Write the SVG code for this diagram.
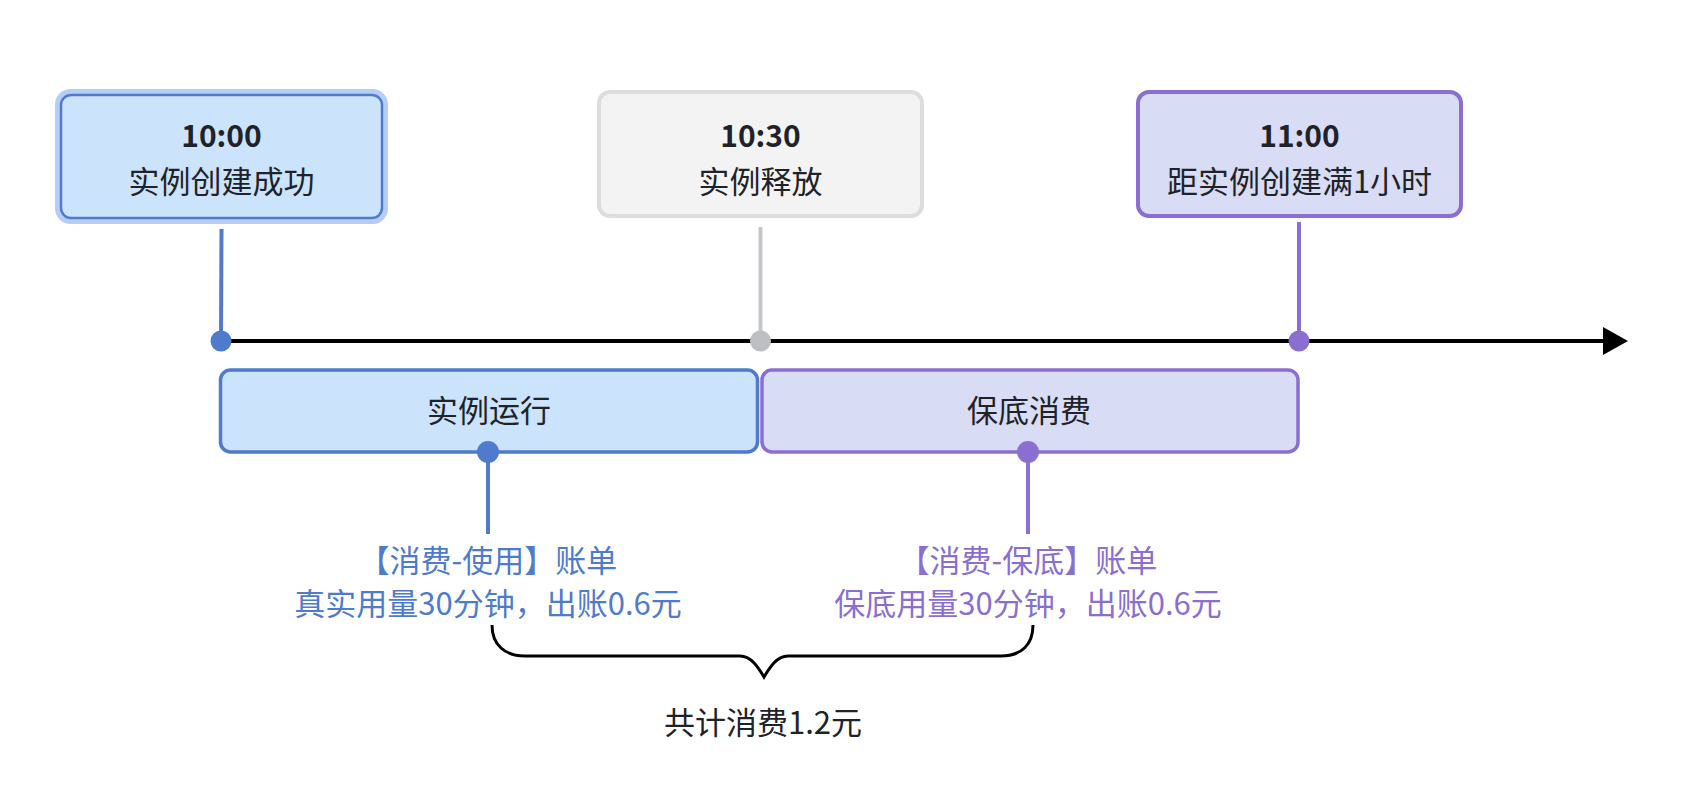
<svg xmlns="http://www.w3.org/2000/svg" width="1694" height="786" viewBox="0 0 1694 786">
<defs>
<style>
text{font-family:"Noto Sans CJK SC","Noto Sans",sans-serif;font-size:31px;text-anchor:middle;fill:#1f2329}
.t{font-weight:bold;font-size:30px}
.blue{fill:#4f7bcc}
.purple{fill:#8a6fd0}
.bbox{fill:#cce3fc;stroke:#4f7bcc;stroke-width:3.5}
.pbox{fill:#d8dcf4;stroke:#8a6fd0;stroke-width:3.5}
.gbox{fill:#f3f3f3;stroke:#dcdddf;stroke-width:4}
</style>
</defs>
<rect width="1694" height="786" fill="#ffffff"/>
<g id="node-1000">
<rect x="57.5" y="91.5" width="328" height="130" rx="13" fill="none" stroke="#b7cdf7" stroke-width="5"/>
<rect x="61" y="95" width="321" height="123" rx="10" fill="#cce3fc" stroke="#4f7bcc" stroke-width="2.5"/>
<text class="t" x="221.5" y="147">10:00</text>
<text x="221.5" y="193">实例创建成功</text>
</g>
<g id="node-1030">
<rect x="599" y="92" width="323" height="124" rx="11" class="gbox"/>
<text class="t" x="760.5" y="147">10:30</text>
<text x="760.5" y="193">实例释放</text>
</g>
<g id="node-1100">
<rect x="1138" y="92" width="323" height="124" rx="11" fill="#d8dcf4" stroke="#8a6fd0" stroke-width="4"/>
<text class="t" x="1299.5" y="147">11:00</text>
<text x="1299.5" y="193">距实例创建满1小时</text>
</g>
<g id="node-run">
<rect x="220.5" y="370" width="537" height="82" rx="10" class="bbox"/>
<text x="489" y="422">实例运行</text>
</g>
<g id="node-min">
<rect x="762" y="370" width="536" height="82" rx="10" class="pbox"/>
<text x="1029" y="422">保底消费</text>
</g>
<g id="label-use">
<text class="blue" x="488" y="572">【消费-使用】账单</text>
<text class="blue" x="488" y="615">真实用量30分钟，出账0.6元</text>
</g>
<g id="label-min">
<text class="purple" x="1028" y="572">【消费-保底】账单</text>
<text class="purple" x="1028" y="615">保底用量30分钟，出账0.6元</text>
</g>
<g id="label-total">
<text x="763" y="734">共计消费1.2元</text>
</g>
<g id="connectors">
<line x1="221" y1="341" x2="1604" y2="341" stroke="#000" stroke-width="4"/>
<polygon points="1603,327 1628,341 1603,355" fill="#000"/>
<line x1="221.5" y1="229" x2="221" y2="341" stroke="#4f7bcc" stroke-width="4"/>
<circle cx="221" cy="341" r="10.5" fill="#4f7bcc"/>
<line x1="760.5" y1="227" x2="760.5" y2="341" stroke="#c4c6c9" stroke-width="4"/>
<circle cx="760.5" cy="341" r="10.5" fill="#bdbfc3"/>
<line x1="1299" y1="222" x2="1299" y2="341" stroke="#8a6fd0" stroke-width="4"/>
<circle cx="1299" cy="341" r="10.5" fill="#8a6fd0"/>
<line x1="488" y1="452" x2="488" y2="534" stroke="#4f7bcc" stroke-width="4"/>
<circle cx="488" cy="452" r="11" fill="#4f7bcc"/>
<line x1="1028" y1="452" x2="1028" y2="534" stroke="#8a6fd0" stroke-width="4"/>
<circle cx="1028" cy="452" r="11" fill="#8a6fd0"/>
<path d="M492,625 C492,645 505,656 525,656 L740,656 C751,656 758,667 764,677 C770,667 777,656 788,656 L1001,656 C1021,656 1033,645 1033,625" fill="none" stroke="#000" stroke-width="3"/>
</g>
</svg>
